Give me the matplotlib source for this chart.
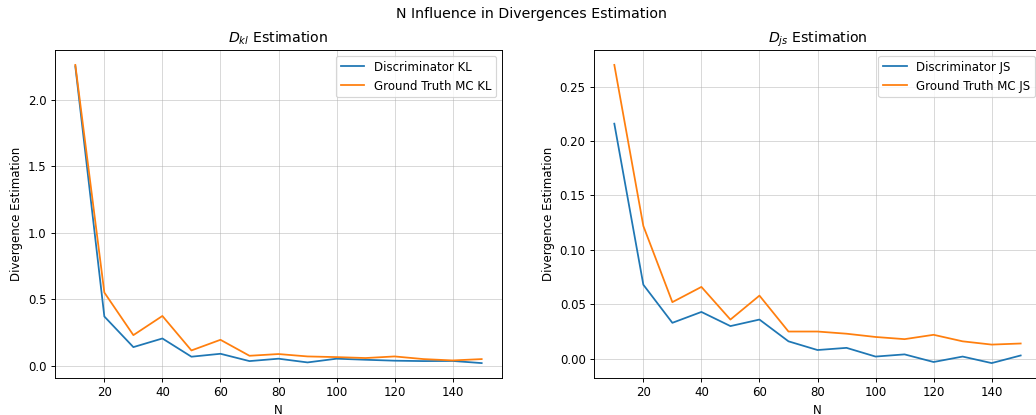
import matplotlib
matplotlib.use("Agg")
import matplotlib.pyplot as plt

# sample sizes
ns = [10, 20, 30, 40, 50, 60, 70, 80, 90, 100, 110, 120, 130, 140, 150]

# KL divergence
disc_kl = [2.25, 0.37, 0.14, 0.205, 0.068, 0.09, 0.035, 0.053, 0.025, 0.053,
           0.045, 0.038, 0.035, 0.036, 0.02]
mc_kl = [2.26, 0.55, 0.23, 0.374, 0.115, 0.195, 0.075, 0.088, 0.07, 0.065,
         0.058, 0.07, 0.05, 0.04, 0.05]

# JS divergence
disc_js = [0.216, 0.068, 0.033, 0.043, 0.030, 0.036, 0.016, 0.008, 0.010, 0.002,
           0.004, -0.003, 0.002, -0.004, 0.003]
mc_js = [0.270, 0.122, 0.052, 0.066, 0.036, 0.058, 0.025, 0.025, 0.023, 0.020,
         0.018, 0.022, 0.016, 0.013, 0.014]

DPI = 85
W, H = 1036, 415
fig = plt.figure(figsize=(W / DPI, H / DPI), dpi=DPI)
ax1 = fig.add_axes([55 / W, (H - 378) / H, 447 / W, 328 / H])
ax2 = fig.add_axes([594 / W, (H - 378) / H, 447 / W, 328 / H])

ax1.plot(ns, disc_kl, label="Discriminator KL")
ax1.plot(ns, mc_kl, label="Ground Truth MC KL")
ax1.set_title("$D_{kl}$ Estimation")
ax1.set_xlabel("N")
ax1.set_ylabel("Divergence Estimation")
ax1.grid(True, alpha=0.5)
ax1.legend(loc="upper right")

ax2.plot(ns, disc_js, label="Discriminator JS")
ax2.plot(ns, mc_js, label="Ground Truth MC JS")
ax2.set_title("$D_{js}$ Estimation")
ax2.set_xlabel("N")
ax2.set_ylabel("Divergence Estimation")
ax2.grid(True, alpha=0.5)
ax2.legend(loc="upper right")

# the original figure was a bit wider than this crop
fig.suptitle("N Influence in Divergences Estimation", x=532 / W, y=0.982)

plt.savefig("out.png", dpi=DPI)
